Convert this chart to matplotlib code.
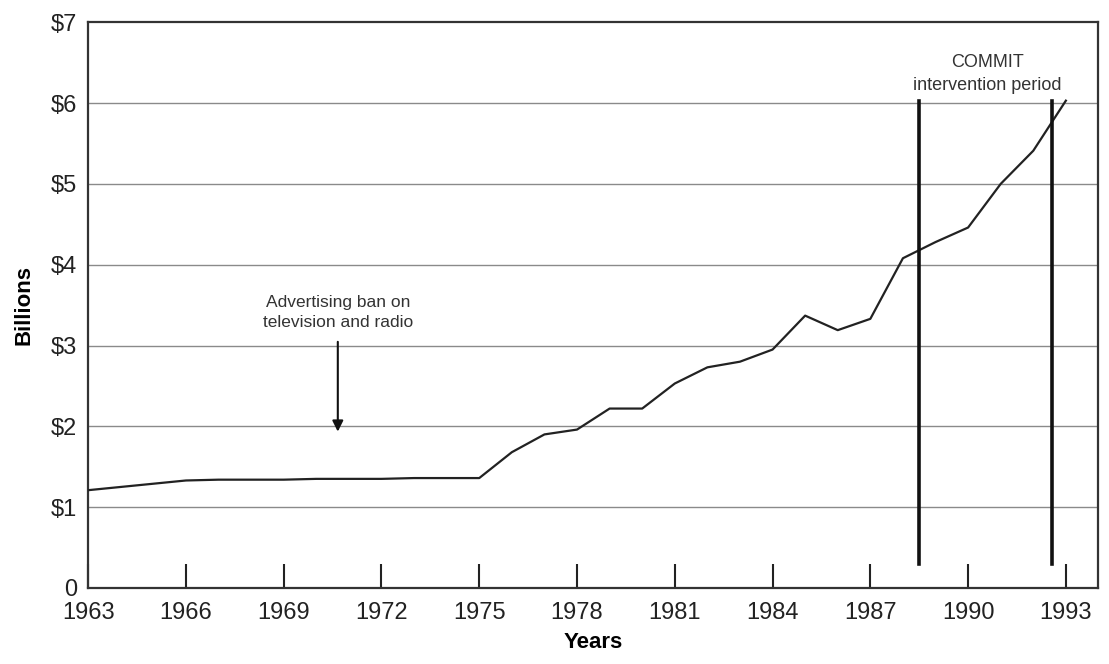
import matplotlib.pyplot as plt
import numpy as np

plt.rcParams['font.family'] = ['Liberation Sans', 'DejaVu Sans']

years = list(range(1963, 1994))
spending = [1.21, 1.25, 1.29, 1.33, 1.34, 1.34, 1.34, 1.35, 1.35, 1.35, 1.36, 1.36, 1.36,
            1.68, 1.90, 1.96, 2.22, 2.22, 2.53, 2.73, 2.80, 2.95, 3.37, 3.19, 3.33,
            4.08, 4.28, 4.46, 5.00, 5.41, 6.03]

x_ticks = list(range(1963, 1994, 3))
y_ticks = [0, 1, 2, 3, 4, 5, 6, 7]
y_labels = ['0', '$1', '$2', '$3', '$4', '$5', '$6', '$7']

commit_years = [1988.5, 1992.58]
ban_year = 1970.66


def plot():
    fig = plt.figure(figsize=(11.09, 6.64), dpi=100)
    ax = fig.add_axes([0.0795, 0.1145, 0.911, 0.852])

    ax.set_xlim(1963, 1994)
    ax.set_ylim(0, 7)
    for v in y_ticks[1:-1]:
        ax.axhline(v, color='#8a8a8a', lw=1.0, zorder=1)

    ax.plot(years, spending, color='#222222', lw=1.6, zorder=3)
    for cy in commit_years:
        ax.plot([cy, cy], [0.3, 6.02], color='#111111', lw=2.6, zorder=4)

    ax.text(ban_year, 3.41, 'Advertising ban on\ntelevision and radio', ha='center', va='center',
            fontsize=12.5, color='#333333', linespacing=1.4)
    ax.annotate('', xy=(ban_year, 1.9), xytext=(ban_year, 3.08),
                arrowprops=dict(arrowstyle='-|>', color='#111111', lw=1.5, mutation_scale=16))
    ax.text(1990.6, 6.36, 'COMMIT\nintervention period', ha='center', va='center',
            fontsize=13, color='#333333', linespacing=1.45)

    ax.set_xticks(x_ticks)
    ax.set_yticks(y_ticks)
    ax.set_yticklabels(y_labels)
    ax.tick_params(axis='x', direction='in', length=17, width=1.5, pad=10, labelsize=17, colors='#222222')
    ax.tick_params(axis='y', length=0, pad=8, labelsize=17, colors='#222222')
    for s in ax.spines.values():
        s.set_linewidth(1.6)
        s.set_color('#333333')

    ax.set_xlabel('Years', fontsize=16, fontweight='bold', labelpad=6)
    ax.set_ylabel('Billions', fontsize=16, fontweight='bold', labelpad=12)
    return fig


def main():
    fig = plot()
    fig.savefig('out.png', dpi=100)


if __name__ == '__main__':
    main()
